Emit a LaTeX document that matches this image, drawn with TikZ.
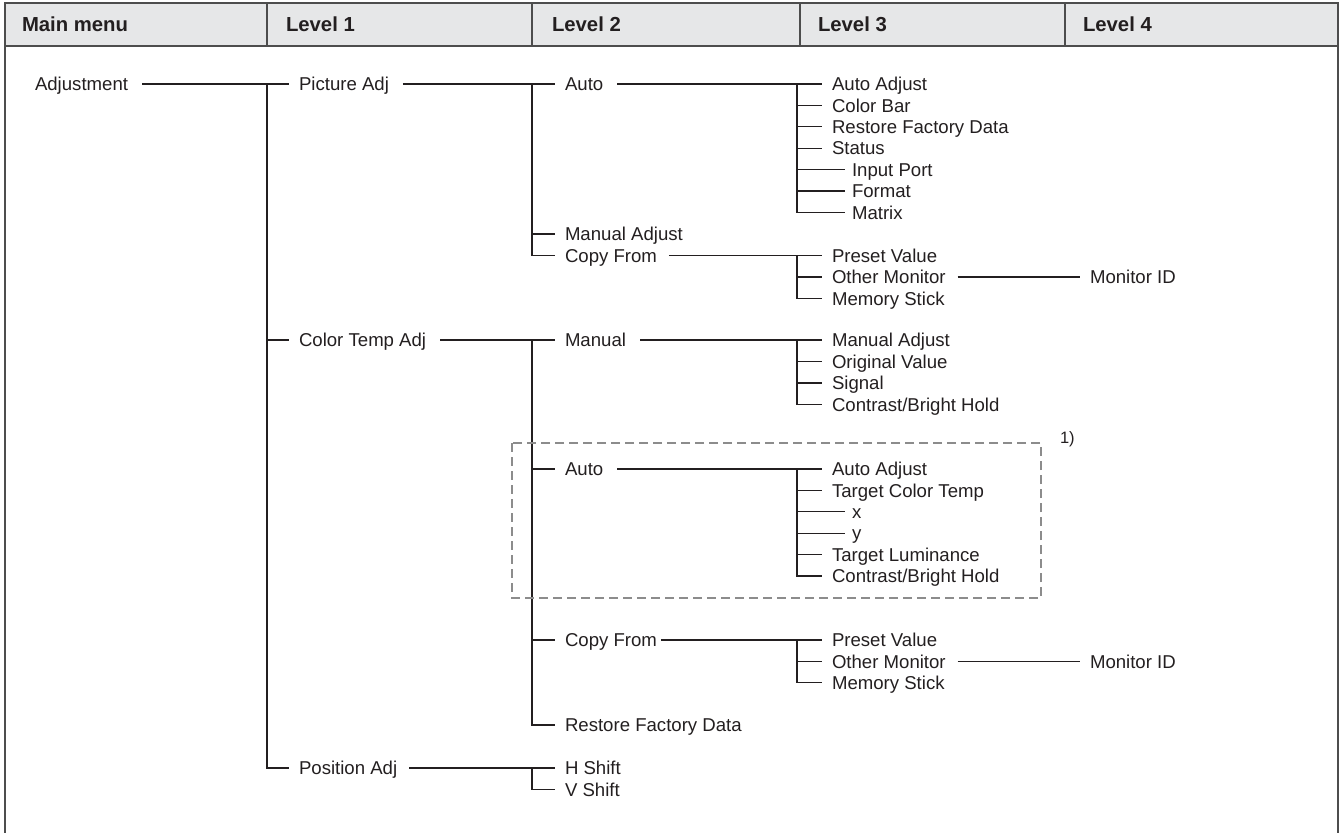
\documentclass[tikz,border=0pt]{standalone}
\usepackage{fontspec}
\setmainfont{Liberation Sans}
\definecolor{ink}{HTML}{231F20}
\definecolor{hdrfill}{HTML}{E6E7E8}
\definecolor{framegray}{HTML}{4D4D4D}
\definecolor{dashgray}{HTML}{8C8C8C}
\begin{document}
\begin{tikzpicture}[x=1pt,y=-1pt,
  lbl/.style={anchor=west,inner sep=0pt,outer sep=0pt,text height=17.2pt,text depth=3.8pt,font=\fontsize{18.6}{20}\selectfont,text=ink},
  hdr/.style={anchor=west,inner sep=0pt,outer sep=0pt,text height=17pt,text depth=2.4pt,font=\fontsize{20.3}{22}\selectfont\bfseries,text=ink},
  wire/.style={draw=ink,line width=1.1pt},
  framel/.style={draw=framegray,line width=1.5pt},
  dashbox/.style={draw=dashgray,line width=1.8pt,dash pattern=on 9pt off 5pt}]
\useasboundingbox (0,0) rectangle (1342,833);
% header
\fill[hdrfill] (5,3) rectangle (1338,46);
\draw[framel] (5,833) -- (5,3) -- (1338,3) -- (1338,833);
\draw[framel] (5,46) -- (1338,46);
\foreach \xx in {267,532,800,1065} \draw[framel] (\xx,3) -- (\xx,46);
\node[hdr] (h0) at (22,24.5) {Main menu};
\node[hdr] (h1) at (286,24.5) {Level 1};
\node[hdr] (h2) at (552,24.5) {Level 2};
\node[hdr] (h3) at (818,24.5) {Level 3};
\node[hdr] (h4) at (1083,24.5) {Level 4};

% main + level 1
\node[lbl] (adj) at (35,84) {Adjustment};
\node[lbl] (pic) at (299,84) {Picture Adj};
\node[lbl] (ctemp) at (299,340) {Color Temp Adj};
\node[lbl] (pos) at (299,768) {Position Adj};
\coordinate (b1t) at (267,84);
\coordinate (b1b) at (267,768);
\draw[wire] ([xshift=14pt]adj.east) -- (b1t) -- ([xshift=-10pt]pic.west);
\draw[wire] (b1t) -- (b1b) -- ([xshift=-10pt]pos.west);
\draw[wire] (b1t |- ctemp.west) -- ([xshift=-10pt]ctemp.west);

% Picture Adj -> level 2
\node[lbl] (pauto) at (565,84) {Auto};
\node[lbl] (pman) at (565,234) {Manual Adjust};
\node[lbl] (pcopy) at (565,255.5) {Copy From};
\coordinate (b2t) at (532,84);
\coordinate (b2b) at (532,255.5);
\draw[wire] ([xshift=14pt]pic.east) -- (b2t) -- ([xshift=-10pt]pauto.west);
\draw[wire] (b2t) -- (b2b) -- ([xshift=-10pt]pcopy.west);
\draw[wire] (b2t |- pman.west) -- ([xshift=-10pt]pman.west);

% Auto -> level 3
\node[lbl] (aa) at (832,84) {Auto Adjust};
\node[lbl] (cb) at (832,105.4) {Color Bar};
\node[lbl] (rfd) at (832,126.8) {Restore Factory Data};
\node[lbl] (st) at (832,148.2) {Status};
\node[lbl] (ip) at (852,169.6) {Input Port};
\node[lbl] (fm) at (852,191) {Format};
\node[lbl] (mx) at (852,212.4) {Matrix};
\coordinate (b3t) at (797,84);
\coordinate (b3b) at (797,212.4);
\draw[wire] ([xshift=14pt]pauto.east) -- (b3t) -- ([xshift=-10pt]aa.west);
\draw[wire] (b3t) -- (b3b) -- ([xshift=-7pt]mx.west);
\foreach \nn in {cb,rfd,st} \draw[wire] (b3t |- \nn.west) -- ([xshift=-10pt]\nn.west);
\foreach \nn in {ip,fm} \draw[wire] (b3t |- \nn.west) -- ([xshift=-7pt]\nn.west);

% Copy From -> level 3
\node[lbl] (pv1) at (832,255.5) {Preset Value};
\node[lbl] (om1) at (832,277) {Other Monitor};
\node[lbl] (ms1) at (832,298.4) {Memory Stick};
\node[lbl] (mid1) at (1090,277) {Monitor ID};
\coordinate (b4t) at (797,255.5);
\coordinate (b4b) at (797,298.4);
\draw[wire] ([xshift=12pt]pcopy.east) -- (b4t) -- ([xshift=-10pt]pv1.west);
\draw[wire] (b4t) -- (b4b) -- ([xshift=-10pt]ms1.west);
\draw[wire] (b4t |- om1.west) -- ([xshift=-10pt]om1.west);
\draw[wire] ([xshift=12pt]om1.east) -- ([xshift=-10pt]mid1.west);

% Color Temp Adj -> level 2
\node[lbl] (cman) at (565,340) {Manual};
\node[lbl] (cauto) at (565,469) {Auto};
\node[lbl] (ccopy) at (565,640) {Copy From};
\node[lbl] (crfd) at (565,725) {Restore Factory Data};
\coordinate (b5t) at (532,340);
\coordinate (b5b) at (532,725);
\draw[wire] ([xshift=14pt]ctemp.east) -- (b5t) -- ([xshift=-10pt]cman.west);
\draw[wire] (b5t) -- (b5b) -- ([xshift=-10pt]crfd.west);
\foreach \nn in {cauto,ccopy} \draw[wire] (b5t |- \nn.west) -- ([xshift=-10pt]\nn.west);

% Manual -> level 3
\node[lbl] (ma) at (832,340) {Manual Adjust};
\node[lbl] (ov) at (832,361.4) {Original Value};
\node[lbl] (sg) at (832,383) {Signal};
\node[lbl] (cbh1) at (832,404.4) {Contrast/Bright Hold};
\coordinate (b6t) at (797,340);
\coordinate (b6b) at (797,404.4);
\draw[wire] ([xshift=14pt]cman.east) -- (b6t) -- ([xshift=-10pt]ma.west);
\draw[wire] (b6t) -- (b6b) -- ([xshift=-10pt]cbh1.west);
\foreach \nn in {ov,sg} \draw[wire] (b6t |- \nn.west) -- ([xshift=-10pt]\nn.west);

% Auto (colour temp) -> level 3
\node[lbl] (caa) at (832,469) {Auto Adjust};
\node[lbl] (tct) at (832,490.4) {Target Color Temp};
\node[lbl] (vx) at (852,511.8) {x};
\node[lbl] (vy) at (852,533.2) {y};
\node[lbl] (tl) at (832,554.6) {Target Luminance};
\node[lbl] (cbh2) at (832,576) {Contrast/Bright Hold};
\coordinate (b7t) at (797,469);
\coordinate (b7b) at (797,576);
\draw[wire] ([xshift=14pt]cauto.east) -- (b7t) -- ([xshift=-10pt]caa.west);
\draw[wire] (b7t) -- (b7b) -- ([xshift=-10pt]cbh2.west);
\foreach \nn in {tct,tl} \draw[wire] (b7t |- \nn.west) -- ([xshift=-10pt]\nn.west);
\foreach \nn in {vx,vy} \draw[wire] (b7t |- \nn.west) -- ([xshift=-7pt]\nn.west);
\draw[dashbox] (512,443) rectangle (1041,598);
\node[lbl,font=\fontsize{16.5}{18}\selectfont] (note) at (1060,437) {1)};

% Copy From (colour temp) -> level 3
\node[lbl] (pv2) at (832,640) {Preset Value};
\node[lbl] (om2) at (832,661.4) {Other Monitor};
\node[lbl] (ms2) at (832,682.8) {Memory Stick};
\node[lbl] (mid2) at (1090,661.4) {Monitor ID};
\coordinate (b8t) at (797,640);
\coordinate (b8b) at (797,682.8);
\draw[wire] ([xshift=4pt]ccopy.east) -- (b8t) -- ([xshift=-10pt]pv2.west);
\draw[wire] (b8t) -- (b8b) -- ([xshift=-10pt]ms2.west);
\draw[wire] (b8t |- om2.west) -- ([xshift=-10pt]om2.west);
\draw[wire] ([xshift=12pt]om2.east) -- ([xshift=-10pt]mid2.west);

% Position Adj -> level 2
\node[lbl] (hs) at (565,768) {H Shift};
\node[lbl] (vs) at (565,789.4) {V Shift};
\coordinate (b9t) at (532,768);
\coordinate (b9b) at (532,789.4);
\draw[wire] ([xshift=12pt]pos.east) -- (b9t) -- ([xshift=-10pt]hs.west);
\draw[wire] (b9t) -- (b9b) -- ([xshift=-10pt]vs.west);
\end{tikzpicture}
\end{document}
